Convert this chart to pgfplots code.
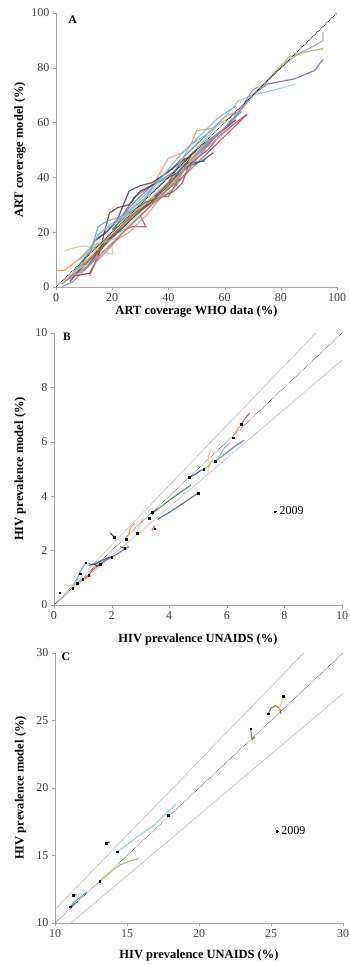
\documentclass[border=0pt]{standalone}
\usepackage{pgfplots}
\pgfplotsset{compat=1.18}
\usepackage{fontspec}
\setmainfont{Liberation Serif}
\definecolor{c1}{HTML}{4F81BD}\definecolor{c2}{HTML}{C0504D}\definecolor{c3}{HTML}{9BBB59}
\definecolor{c4}{HTML}{8064A2}\definecolor{c5}{HTML}{4BACC6}\definecolor{c6}{HTML}{F79646}
\definecolor{d1}{HTML}{2C4D75}\definecolor{d2}{HTML}{772C2A}\definecolor{d3}{HTML}{5F7530}
\definecolor{d4}{HTML}{4D3B62}\definecolor{d5}{HTML}{276A7C}\definecolor{d6}{HTML}{B65708}
\definecolor{l1}{HTML}{95B3D7}\definecolor{l2}{HTML}{D99694}\definecolor{l3}{HTML}{C3D69B}
\definecolor{l4}{HTML}{B2A2C7}\definecolor{l5}{HTML}{93CDDD}\definecolor{l6}{HTML}{FAC090}
\definecolor{m1}{HTML}{729ACA}\definecolor{m2}{HTML}{CD7371}\definecolor{m3}{HTML}{AFC97A}
\definecolor{m4}{HTML}{9983B5}\definecolor{m5}{HTML}{6FBDD1}\definecolor{m6}{HTML}{A5465B}
\definecolor{axgray}{HTML}{A6A6A6}\definecolor{refgray}{HTML}{BFBFBF}
\pgfplotsset{
  myax/.style={scale only axis, axis x line*=bottom, axis y line*=left,
    axis line style={-, draw=axgray}, tick align=outside, major tick length=3pt,
    tick style={axgray}, ticklabel style={font=\fontsize{12}{12}\selectfont, text=black!75},
    label style={font=\bfseries\fontsize{12.5}{13}\selectfont},
    /pgf/number format/assume math mode=true,
    legend image code/.code={\fill[black] (0pt,-0.9pt) rectangle (1.8pt,0.9pt); \path (0pt,0pt) -- (3.5pt,0pt);},
    legend style={draw=none, fill=none, anchor=west, font=\fontsize{12}{12}\selectfont, inner sep=0pt}},
  ln/.style={no markers, line width=1.2pt, opacity=0.85},
  dots/.style={only marks, mark=square*, mark size=0.85pt, black},
}
\begin{document}
\begin{tikzpicture}
\useasboundingbox (0,0) rectangle (349pt,965pt);
% ---------------- Panel A ----------------
\begin{axis}[myax, at={(56pt,678pt)}, anchor=south west, width=281pt, height=274pt,
  xmin=0, xmax=100, ymin=0, ymax=100, xtick={0,20,...,100}, ytick={0,20,...,100},
  xlabel={ART coverage WHO data (\%)}, ylabel={ART coverage model (\%)},
  xlabel style={at={(axis description cs:0.5,-0.088)}, anchor=center},
  ylabel style={at={(axis description cs:-0.128,0.5)}, anchor=center}]
\addplot[ln, c1] coordinates {(2,1)(8,6)(14,17)(20,22)(27,30)(35,38)(42,44)(50,52)(58,60)};
\addplot[ln, c2] coordinates {(5,3)(12,8)(20,19)(27,22)(32,22)(30,26)(38,34)(45,40)(52,47)(60,55)(68,63)};
\addplot[ln, c3] coordinates {(3,2)(10,9)(18,16)(26,24)(34,31)(42,39)(52,50)(62,60)(72,72)(83,84)(90,86)(95,87)};
\addplot[ln, c4] coordinates {(4,3)(12,10)(20,20)(28,33)(34,37)(42,42)(50,50)(60,58)(70,70)(75,74)(85,76)(92,79)(95,83)};
\addplot[ln, c5] coordinates {(6,5)(13,14)(22,20)(30,28)(38,36)(45,44)(52,50)(60,58)(66,64)};
\addplot[ln, c6] coordinates {(0,6)(3,6)(8,10)(15,15)(22,22)(30,29)(40,47)(45,49)(48,52)(50,57)(56,58)(62,62)(66,65)};
\addplot[ln, d1] coordinates {(5,2)(10,8)(16,15)(24,22)(32,30)(40,38)(47,44)(52,46)(56,49)};
\addplot[ln, d2] coordinates {(6,4)(12,5)(15,11)(19,27)(22,29)(26,30)(30,35)(36,38)(44,42)(50,49)(58,56)(64,61)};
\addplot[ln, l3] coordinates {(3,13)(5,14)(10,15)(20,12)(20,16)(25,22)(30,27)(35,33)};
\addplot[ln, l4] coordinates {(8,5)(14,12)(22,20)(30,29)(40,38)(50,49)(60,58)(70,70)(80,80)(86,85)(92,88)(95,90)(95,93)};
\addplot[ln, l5] coordinates {(10,12)(18,18)(26,26)(34,35)(44,44)(55,56)(65,68)(70,70)(78,72)(85,74)};
\addplot[ln, l6] coordinates {(2,2)(10,8)(18,18)(26,24)(35,34)(44,42)(52,52)};
\addplot[ln, d4] coordinates {(14,17)(18,20)(22,25)(26,35)(30,37)(34,38)(40,42)(46,47)};
\addplot[ln, m6] coordinates {(30,28)(36,32)(42,35)(45,38)(47,44)(50,47)(54,50)(58,55)(64,60)(68,63)};
\addplot[ln, d5] coordinates {(10,6)(15,13)(20,18)(28,26)(35,32)(40,37)(46,45)(53,46)};
\addplot[ln, m1] coordinates {(12,12)(15,22)(18,24)(24,26)(30,31)(36,36)(42,42)(48,48)};
\addplot[ln, d3] coordinates {(20,21)(26,27)(32,31)(38,33)(40,33)(44,40)(48,48)};
\addplot[ln, l2] coordinates {(4,3)(8,5)(14,10)(20,16)(26,20)(32,26)(40,36)(48,46)(56,53)(62,58)};
\addplot[ln, d6] coordinates {(10,8)(16,14)(22,21)(28,27)(34,31)(40,38)(44,45)(50,50)};
\addplot[ln, m4] coordinates {(2,0)(6,2)(12,8)(18,14)(26,22)(34,30)(42,36)(48,44)(56,54)(64,62)(70,72)(72,73)};
\addplot[ln, m5] coordinates {(8,10)(12,14)(16,20)(22,24)(28,28)(36,38)(44,48)(50,54)(58,62)(64,66)};
\addplot[ln, m3] coordinates {(12,15)(16,16)(22,18)(28,24)(34,30)(40,36)(44,40)};
\addplot[ln, m2] coordinates {(12,4)(14,9)(18,13)(24,20)(30,26)(36,32)(42,38)(46,43)};
\addplot[ln, l1] coordinates {(14,18)(18,22)(24,26)(30,32)(36,38)(42,42)(48,52)(54,56)(60,62)(64,64)};
\addplot[black, densely dotted, line width=0.8pt] coordinates {(0,0)(100,100)};
\node[font=\bfseries\fontsize{11.5}{11}\selectfont] at (axis cs:6,97.5) {A};
\end{axis}
% ---------------- Panel B ----------------
\begin{axis}[myax, at={(54pt,360pt)}, anchor=south west, width=288pt, height=272pt,
  xmin=0, xmax=10, ymin=0, ymax=10, xtick={0,2,...,10}, ytick={0,2,...,10},
  xlabel={HIV prevalence UNAIDS (\%)}, ylabel={HIV prevalence model (\%)},
  xlabel style={at={(axis description cs:0.5,-0.125)}, anchor=center},
  ylabel style={at={(axis description cs:-0.118,0.5)}, anchor=center},
  legend style={at={(axis cs:7.62,3.43)}}]
\addplot[refgray, line width=0.6pt, forget plot] coordinates {(0,0)(9.0909,10)};
\addplot[refgray, line width=0.6pt, forget plot] coordinates {(0,0)(10,9)};
\addplot[black!80, densely dotted, line width=0.6pt, forget plot] coordinates {(0,0)(10,10)};
\addplot[ln, c2, forget plot] coordinates {(6.5,6.65)(6.6,6.8)(6.7,6.95)(6.8,7.05)};
\addplot[ln, c6, forget plot] coordinates {(6.22,6.21)(6.3,6.35)(6.4,6.5)(6.5,6.6)};
\addplot[ln, l6, forget plot] coordinates {(5.35,4.9)(5.4,5.2)(5.35,5.45)(5.45,5.7)};
\addplot[ln, c3, forget plot] coordinates {(5.2,5.0)(5.35,5.1)(5.5,5.3)};
\addplot[ln, c1, forget plot] coordinates {(5.6,5.28)(6.0,5.6)(6.3,5.85)(6.6,6.05)};
\addplot[ln, l1, forget plot] coordinates {(5.7,5.4)(5.9,5.75)(6.1,5.95)};
\addplot[ln, d1, forget plot] coordinates {(4.7,4.7)(4.9,4.8)(5.1,4.95)(5.25,5.0)};
\addplot[ln, d5!70!c3, forget plot] coordinates {(3.4,3.4)(3.7,3.6)(4.0,3.85)(4.4,4.15)(4.75,4.4)};
\addplot[ln, c1!80!black, forget plot] coordinates {(3.6,3.15)(4.0,3.4)(4.5,3.75)(5.0,4.12)};
\addplot[ln, d3, forget plot] coordinates {(3.4,3.3)(3.5,3.45)(3.6,3.5)};
\addplot[ln, c6, forget plot] coordinates {(2.5,2.42)(2.6,2.6)(2.65,2.85)(2.8,3.0)};
\addplot[ln, l6, forget plot] coordinates {(2.9,2.65)(2.95,2.9)(3.1,3.2)};
\addplot[ln, c2, forget plot] coordinates {(3.4,2.75)(3.5,2.9)};
\addplot[ln, black!80, forget plot] coordinates {(2.1,2.5)(2.0,2.6)(1.95,2.65)};
\addplot[ln, black!70, forget plot] coordinates {(2.45,2.08)(2.35,2.12)(2.3,2.15)};
\addplot[ln, c5, forget plot] coordinates {(0.65,0.7)(0.8,0.95)(0.9,1.2)(1.0,1.4)(1.1,1.55)(1.3,1.5)(1.5,1.5)};
\addplot[ln, l3, forget plot] coordinates {(0.35,0.75)(0.55,0.72)(0.75,0.8)};
\addplot[ln, c2, forget plot] coordinates {(1.0,0.95)(1.2,1.1)(1.35,1.3)(1.6,1.5)};
\addplot[ln, d2, forget plot] coordinates {(1.4,1.5)(1.5,1.42)(1.6,1.5)(1.7,1.55)};
\addplot[ln, c4, forget plot] coordinates {(1.6,1.5)(1.8,1.65)(2.0,1.75)(2.3,1.95)(2.6,2.15)};
\addplot[ln, c6, forget plot] coordinates {(0.9,0.85)(1.0,0.95)(1.2,1.0)(1.3,1.1)};
\addplot[ln, d1, forget plot] coordinates {(1.2,1.45)(1.5,1.55)(1.8,1.7)(2.0,1.78)};
\addplot[ln, l1, forget plot] coordinates {(0.7,0.75)(0.9,0.9)(1.1,1.05)};
\addplot[dots] coordinates {(0.2,0.45)(0.65,0.62)(0.8,0.8)(0.9,1.15)(1.0,0.95)(1.1,1.55)(1.2,1.1)
  (1.6,1.5)(2.0,1.75)(2.1,2.5)(2.45,2.1)(2.5,2.42)(2.9,2.65)(3.3,3.2)(3.4,3.4)(3.5,2.8)
  (4.7,4.7)(5.0,4.12)(5.2,5.0)(5.6,5.28)(6.22,6.15)(6.5,6.65)};
\addlegendentry{2009}
\node[font=\bfseries\fontsize{11.5}{11}\selectfont] at (axis cs:0.45,9.85) {B};
\end{axis}
% ---------------- Panel C ----------------
\begin{axis}[myax, at={(55pt,42pt)}, anchor=south west, width=288pt, height=270pt,
  xmin=10, xmax=30, ymin=10, ymax=30, xtick={10,15,...,30}, ytick={10,15,...,30},
  xlabel={HIV prevalence UNAIDS (\%)}, ylabel={HIV prevalence model (\%)},
  xlabel style={at={(axis description cs:0.5,-0.119)}, anchor=center},
  ylabel style={at={(axis description cs:-0.119,0.5)}, anchor=center},
  legend style={at={(axis cs:25.3,16.8)}}]
\addplot[refgray, line width=0.6pt, forget plot] coordinates {(10,11)(27.2727,30)};
\addplot[refgray, line width=0.6pt, forget plot] coordinates {(11.1111,10)(30,27)};
\addplot[black!80, densely dotted, line width=0.6pt, forget plot] coordinates {(10,10)(30,30)};
\addplot[ln, c5, forget plot] coordinates {(11.04,11.2)(11.5,11.7)(12.24,12.3)};
\addplot[ln, d1, forget plot, line width=0.8pt] coordinates {(11.0,11.15)(11.6,11.6)};
\addplot[ln, c2, forget plot] coordinates {(11.25,12.05)(11.5,12.1)};
\addplot[ln, c3, forget plot] coordinates {(13.1,13.1)(13.6,13.5)(14.0,13.9)(14.5,14.3)(15.2,14.6)(15.8,14.75)};
\addplot[ln, l3, forget plot] coordinates {(13.1,13.1)(13.6,13.6)(14.2,14.1)};
\addplot[ln, l5, forget plot] coordinates {(14.33,15.28)(15.5,16.2)(16.8,17.2)(18.4,18.8)};
\addplot[ln, black!75, forget plot] coordinates {(13.55,15.9)(13.8,16.0)};
\addplot[ln, d3!80!c3, forget plot] coordinates {(23.6,24.3)(23.65,23.8)(23.7,23.6)(23.9,23.8)};
\addplot[ln, d3!80!c3, forget plot] coordinates {(24.8,25.5)(25.0,25.9)(25.3,26.1)(25.6,25.9)(25.7,25.5)};
\addplot[ln, l6!70!c6, forget plot] coordinates {(25.85,26.8)(25.7,26.2)(25.5,25.7)};
\addplot[dots] coordinates {(11.04,11.2)(11.25,12.05)(13.1,13.1)(13.55,15.9)(14.33,15.28)(17.87,18.0)(23.6,24.4)(24.8,25.5)(25.85,26.8)};
\addlegendentry{2009}
\node[font=\bfseries\fontsize{11.5}{11}\selectfont] at (axis cs:10.75,29.7) {C};
\end{axis}
\end{tikzpicture}
\end{document}
